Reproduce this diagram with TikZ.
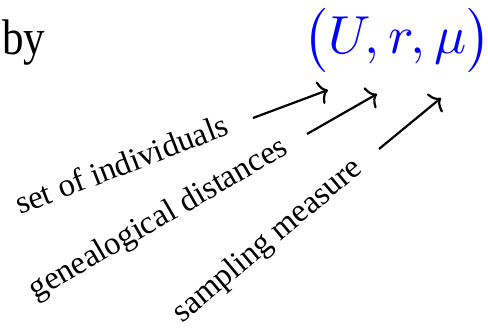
\documentclass[tikz,border=0pt]{standalone}
\usepackage{fontspec}
\setmainfont{Liberation Serif}
\usetikzlibrary{arrows.meta}
\begin{document}
\begin{tikzpicture}[x=1pt,y=1pt,
  bigtext/.style={inner sep=0pt,font=\fontsize{50}{56}\selectfont},
  mathtext/.style={inner sep=0pt,scale=5.35,font=\fontsize{10}{12}\selectfont},
  lbl/.style={inner sep=0pt,font=\fontsize{32.7}{38}\selectfont},
  arr/.style={line width=2.2pt,-{To[length=9pt,width=24pt]}}]
\useasboundingbox (0,0) rectangle (488,328);
\node[bigtext,anchor=base west,xscale=0.86] (by) at (2,273) {by};
\node[mathtext,anchor=base west,text=blue] (tuple) at (302.5,274) {$\bigl(U,r,\mu\bigr)$};
\node[lbl,anchor=base east,rotate=21] (l1) at (231,194) {set of individuals};
\node[lbl,anchor=base east,rotate=30] (l2) at (290,175) {genealogical distances};
\node[lbl,anchor=base east,rotate=40] (l3) at (364,157) {sampling measure};
\coordinate (s1) at (253,210); \coordinate (t1) at (328,238);
\coordinate (s2) at (307,194); \coordinate (t2) at (377,234);
\coordinate (s3) at (379,179); \coordinate (t3) at (441,230);
\draw[arr] (s1) -- (t1);
\draw[arr] (s2) -- (t2);
\draw[arr] (s3) -- (t3);
\end{tikzpicture}
\end{document}
